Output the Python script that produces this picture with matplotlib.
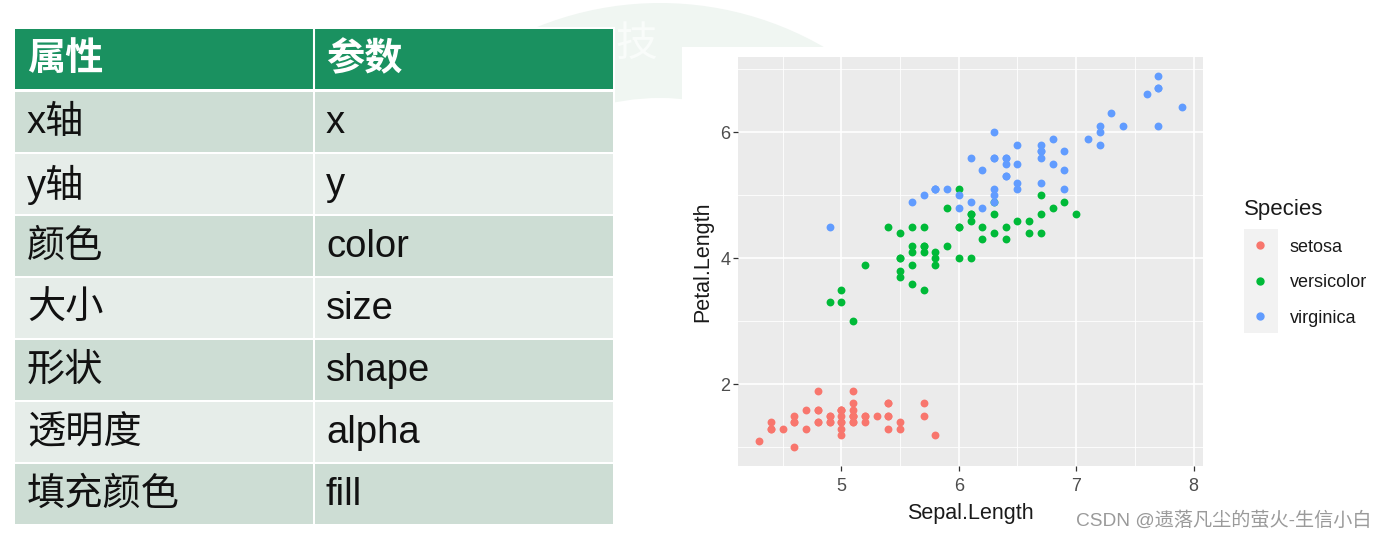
import matplotlib
matplotlib.use("Agg")
import matplotlib.pyplot as plt
from matplotlib.patches import Rectangle, Wedge
from matplotlib.lines import Line2D

# table content
header = ['属性', '参数']
attrs = ['x轴', 'y轴', '颜色', '大小', '形状', '透明度', '填充颜色']
params = ['x', 'y', 'color', 'size', 'shape', 'alpha', 'fill']

# iris: Sepal.Length / Petal.Length per species
species = ['setosa', 'versicolor', 'virginica']
setosa_sl = [5.1, 4.9, 4.7, 4.6, 5.0, 5.4, 4.6, 5.0, 4.4, 4.9, 5.4, 4.8, 4.8, 4.3, 5.8, 5.7, 5.4,
             5.1, 5.7, 5.1, 5.4, 5.1, 4.6, 5.1, 4.8, 5.0, 5.0, 5.2, 5.2, 4.7, 4.8, 5.4, 5.2, 5.5,
             4.9, 5.0, 5.5, 4.9, 4.4, 5.1, 5.0, 4.5, 4.4, 5.0, 5.1, 4.8, 5.1, 4.6, 5.3, 5.0]
setosa_pl = [1.4, 1.4, 1.3, 1.5, 1.4, 1.7, 1.4, 1.5, 1.4, 1.5, 1.5, 1.6, 1.4, 1.1, 1.2, 1.5, 1.3,
             1.4, 1.7, 1.5, 1.7, 1.5, 1.0, 1.7, 1.9, 1.6, 1.6, 1.5, 1.4, 1.6, 1.6, 1.5, 1.5, 1.4,
             1.5, 1.2, 1.3, 1.4, 1.3, 1.5, 1.3, 1.3, 1.3, 1.6, 1.9, 1.4, 1.6, 1.4, 1.5, 1.4]
versicolor_sl = [7.0, 6.4, 6.9, 5.5, 6.5, 5.7, 6.3, 4.9, 6.6, 5.2, 5.0, 5.9, 6.0, 6.1, 5.6, 6.7, 5.6,
                 5.8, 6.2, 5.6, 5.9, 6.1, 6.3, 6.1, 6.4, 6.6, 6.8, 6.7, 6.0, 5.7, 5.5, 5.5, 5.8, 6.0,
                 5.4, 6.0, 6.7, 6.3, 5.6, 5.5, 5.5, 6.1, 5.8, 5.0, 5.6, 5.7, 5.7, 6.2, 5.1, 5.7]
versicolor_pl = [4.7, 4.5, 4.9, 4.0, 4.6, 4.5, 4.7, 3.3, 4.6, 3.9, 3.5, 4.2, 4.0, 4.7, 3.6, 4.4, 4.5,
                 4.1, 4.5, 3.9, 4.8, 4.0, 4.9, 4.7, 4.3, 4.4, 4.8, 5.0, 4.5, 3.5, 3.8, 3.7, 3.9, 5.1,
                 4.5, 4.5, 4.7, 4.4, 4.1, 4.0, 4.4, 4.6, 4.0, 3.3, 4.2, 4.2, 4.2, 4.3, 3.0, 4.1]
virginica_sl = [6.3, 5.8, 7.1, 6.3, 6.5, 7.6, 4.9, 7.3, 6.7, 7.2, 6.5, 6.4, 6.8, 5.7, 5.8, 6.4, 6.5,
                7.7, 7.7, 6.0, 6.9, 5.6, 7.7, 6.3, 6.7, 7.2, 6.2, 6.1, 6.4, 7.2, 7.4, 7.9, 6.4, 6.3,
                6.1, 7.7, 6.3, 6.4, 6.0, 6.9, 6.7, 6.9, 5.8, 6.8, 6.7, 6.7, 6.3, 6.5, 6.2, 5.9]
virginica_pl = [6.0, 5.1, 5.9, 5.6, 5.8, 6.6, 4.5, 6.3, 5.8, 6.1, 5.1, 5.3, 5.5, 5.0, 5.1, 5.3, 5.5,
                6.7, 6.9, 5.0, 5.7, 4.9, 6.7, 4.9, 5.7, 6.0, 4.8, 4.9, 5.6, 5.8, 6.1, 6.4, 5.6, 5.1,
                5.6, 6.1, 5.6, 5.5, 4.8, 5.4, 5.6, 5.1, 5.1, 5.9, 5.7, 5.2, 5.0, 5.2, 5.4, 5.1]

colors = ['#F8766D', '#00BA38', '#619CFF']
FONTS = ['Liberation Sans', 'Noto Sans CJK SC', 'DejaVu Sans']
plt.rcParams['font.family'] = FONTS

W, H = 1383, 541
fig = plt.figure(figsize=(W / 100, H / 100), dpi=100)

# background layer in pixel units
bg = fig.add_axes([0, 0, 1, 1])
bg.set_xlim(0, W)
bg.set_ylim(H, 0)
bg.axis('off')

# faint watermark arc behind everything
bg.add_patch(Wedge((660, 330), 327, 200, 340, width=95, color='#F0F6F2', lw=0, zorder=0))
bg.text(636, 45, '技', fontsize=30, color='#F9FCFA', ha='center', va='center', zorder=1)
bg.add_patch(Rectangle((682, 47), W - 682, H - 47, color='white', lw=0, zorder=1))

# table
x0, xs, x1 = 15, 314, 613
bg.add_patch(Rectangle((x0 - 2, 27), x1 - x0 + 4, 500, color='white', lw=0, zorder=1))
bg.add_patch(Rectangle((x0, 29), x1 - x0, 60, color='#1A9160', lw=0, zorder=2))
bg.plot([xs, xs], [29, 89], color='white', lw=1.5, zorder=3)
for j, h in enumerate(header):
    bg.text([27, 326][j], 60, h, fontsize=27.5, fontweight='bold', color='white',
            va='center', ha='left', zorder=4)

row_top = 92
row_h = 62
for i, (a, p) in enumerate(zip(attrs, params)):
    top = row_top + i * row_h
    c = '#CDDDD4' if i % 2 == 0 else '#E6EDE9'
    bg.add_patch(Rectangle((x0, top), xs - x0 - 1, row_h - 2, color=c, lw=0, zorder=2))
    bg.add_patch(Rectangle((xs + 1, top), x1 - xs - 1, row_h - 2, color=c, lw=0, zorder=2))
    cy = top + (row_h - 2) / 2 + 1
    bg.text(27, cy, a, fontsize=27.5, color='#111111', va='center', ha='left', zorder=4)
    bg.text(326, cy, p, fontsize=27.5, color='#111111', va='center', ha='left', zorder=4)

# scatter panel
L, R, T, B = 738, 1203, 57, 466
ax = fig.add_axes([L / W, 1 - B / H, (R - L) / W, (B - T) / H])
ax.set_facecolor('#EBEBEB')
xs_all = [setosa_sl, versicolor_sl, virginica_sl]
ys_all = [setosa_pl, versicolor_pl, virginica_pl]
for name, xv, yv, col in zip(species, xs_all, ys_all, colors):
    ax.scatter(xv, yv, s=32, color=col, lw=0, zorder=3, label=name)

ax.set_xlim(4.12, 8.08)
ax.set_ylim(0.705, 7.195)
ax.set_xticks([5, 6, 7, 8])
ax.set_xticks([4.5, 5.5, 6.5, 7.5], minor=True)
ax.set_yticks([2, 4, 6])
ax.set_yticks([1, 3, 5, 7], minor=True)
ax.grid(which='major', color='white', lw=1.2, zorder=1)
ax.grid(which='minor', color='white', lw=0.6, zorder=1)
ax.set_axisbelow(True)
for s in ax.spines.values():
    s.set_visible(False)
ax.tick_params(which='major', length=3.5, width=0.9, color='#333333',
               labelcolor='#4D4D4D', labelsize=13)
ax.tick_params(axis='x', which='major', pad=5)
ax.tick_params(axis='y', which='major', pad=2)
ax.tick_params(which='minor', length=0)
ax.set_xlabel('Sepal.Length', fontsize=15.5, color='#1A1A1A', labelpad=6)
ax.set_ylabel('Petal.Length', fontsize=15.5, color='#1A1A1A', labelpad=5)

# legend
bg.add_patch(Rectangle((1244, 229), 34, 104, color='#F2F2F2', lw=0, zorder=2))
handles = [Line2D([], [], marker='o', ls='', color=c, markersize=5) for c in colors]
leg = fig.legend(handles, species, title='Species', loc='upper left',
                 bbox_to_anchor=(1244 / W, 1 - 199 / H), frameon=False,
                 borderpad=0, borderaxespad=0,
                 fontsize=13, title_fontsize=16, alignment='left',
                 labelspacing=1.03, handlelength=1.8, handletextpad=0.72)
leg.get_title().set_color('#1A1A1A')
for t in leg.get_texts():
    t.set_color('#1A1A1A')

fig.text(1371 / W, 1 - 521 / H, 'CSDN @遗落凡尘的萤火-生信小白', fontsize=13.8, color='#9A9A9A',
         ha='right', va='center')

fig.savefig('out.png', dpi=100)
